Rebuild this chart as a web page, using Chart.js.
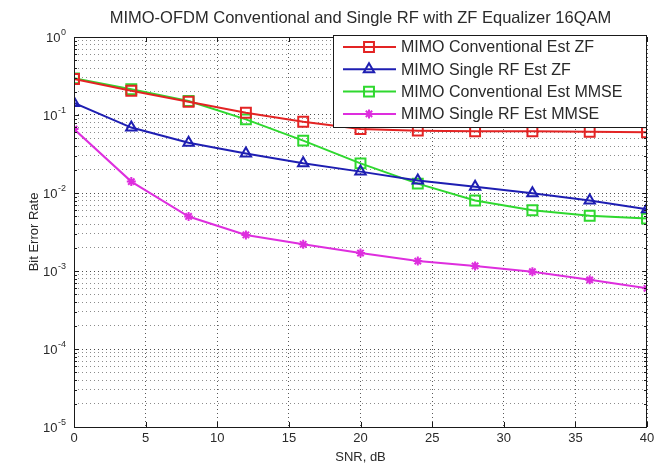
<!DOCTYPE html>
<html>
<head>
<meta charset="utf-8">
<script src="https://cdn.jsdelivr.net/npm/chart.js@4.4.0/dist/chart.umd.min.js"></script>
<style>
  html, body { margin: 0; padding: 0; background: #fff; }
</style>
</head>
<body>
<canvas id="berChart" width="661" height="465"></canvas>
<script>
// values
const snrDb = [0, 4, 8, 12, 16, 20, 24, 28, 32, 36, 40];
const convZf = [0.29, 0.205, 0.148, 0.107, 0.082, 0.066, 0.063, 0.062, 0.062, 0.061, 0.06];
const singleZf = [0.143, 0.069, 0.044, 0.032, 0.024, 0.0188, 0.0145, 0.012, 0.0099, 0.008, 0.0062];
const convMmse = [0.295, 0.214, 0.151, 0.088, 0.047, 0.024, 0.0132, 0.008, 0.006, 0.0051, 0.0047];
const singleMmse = [0.066, 0.014, 0.005, 0.0029, 0.0022, 0.0017, 0.00134, 0.00116, 0.00098, 0.00077, 0.0006];

const seriesNames = ['MIMO Conventional Est ZF', 'MIMO Single RF Est ZF', 'MIMO Conventional Est MMSE', 'MIMO Single RF Est MMSE'];
const chartTitle = 'MIMO-OFDM Conventional and Single RF with ZF Equalizer 16QAM';
const xTitle = 'SNR, dB';
const yTitle = 'Bit Error Rate';
const xTicks = [0, 5, 10, 15, 20, 25, 30, 35, 40];
const yDecades = [1e-5, 1e-4, 1e-3, 1e-2, 1e-1, 1];

const FONT = '"Liberation Sans", Arial, Helvetica, sans-serif';
const TEXT = '#2a2a2a';

// log grid: every 1..9 step inside each decade
const yGrid = [];
yDecades.forEach((d, i) => {
    if (i === yDecades.length - 1) { yGrid.push(d); return; }
    for (let m = 1; m <= 9; m++) yGrid.push(+(m * d).toPrecision(3));
});
const isDecade = v => Math.abs(Math.log10(v) - Math.round(Math.log10(v))) < 1e-6;

function toPoints(vals) {
    return snrDb.map((x, i) => ({ x: x, y: vals[i] }));
}

const styles = [
    { color: '#e32424', pointStyle: 'rect', radius: 7 },
    { color: '#1e1eb2', pointStyle: 'triangle', radius: 6 },
    { color: '#2fd82f', pointStyle: 'rect', radius: 7 },
    { color: '#de2ede', pointStyle: 'star', radius: 4.5 }
];
const allSeries = [convZf, singleZf, convMmse, singleMmse];

const datasets = allSeries.map((vals, i) => ({
    label: seriesNames[i],
    data: toPoints(vals),
    borderColor: styles[i].color,
    backgroundColor: 'rgba(0,0,0,0)',
    borderWidth: 2,
    pointStyle: styles[i].pointStyle,
    pointRadius: styles[i].radius,
    pointBorderWidth: 2,
    pointBorderColor: styles[i].color,
    pointBackgroundColor: 'rgba(0,0,0,0)',
    tension: 0
}));

// matlab-like frame, labels and legend box
const matlabFrame = {
    id: 'matlabFrame',
    afterDraw(chart) {
        const { ctx, chartArea: a, scales } = chart;
        const x = scales.x, y = scales.y;
        ctx.save();

        // axis box + inner ticks
        ctx.strokeStyle = '#1a1a1a';
        ctx.lineWidth = 1;
        ctx.setLineDash([]);
        ctx.strokeRect(a.left + 0.5, a.top + 0.5, a.right - a.left - 1, a.bottom - a.top);
        ctx.beginPath();
        xTicks.forEach(v => {
            const px = Math.round(x.getPixelForValue(v)) + 0.5;
            ctx.moveTo(px, a.bottom); ctx.lineTo(px, a.bottom - 5);
            ctx.moveTo(px, a.top); ctx.lineTo(px, a.top + 5);
        });
        yGrid.forEach(v => {
            const py = Math.round(y.getPixelForValue(v)) + 0.5;
            const len = isDecade(v) ? 5 : 3;
            ctx.moveTo(a.left, py); ctx.lineTo(a.left + len, py);
            ctx.moveTo(a.right, py); ctx.lineTo(a.right - len, py);
        });
        ctx.stroke();

        ctx.fillStyle = TEXT;

        // x tick labels
        ctx.font = '13px ' + FONT;
        ctx.textAlign = 'center';
        ctx.textBaseline = 'middle';
        xTicks.forEach(v => ctx.fillText(String(v), x.getPixelForValue(v), a.bottom + 11));

        // y tick labels 10^n
        yDecades.forEach(d => {
            const py = y.getPixelForValue(d);
            const ex = String(Math.round(Math.log10(d)));
            const right = a.left - 8;
            ctx.font = '9px ' + FONT;
            const ew = ctx.measureText(ex).width;
            ctx.textAlign = 'left';
            ctx.textBaseline = 'alphabetic';
            ctx.fillText(ex, right - ew, py - 2);
            ctx.font = '13px ' + FONT;
            ctx.textAlign = 'right';
            ctx.fillText('10', right - ew - 0.5, py + 5);
        });

        // axis titles
        ctx.font = '13px ' + FONT;
        ctx.textAlign = 'center';
        ctx.textBaseline = 'middle';
        ctx.fillText(xTitle, (a.left + a.right) / 2, a.bottom + 30);
        ctx.save();
        ctx.translate(34, (a.top + a.bottom) / 2);
        ctx.rotate(-Math.PI / 2);
        ctx.fillText(yTitle, 0, 0);
        ctx.restore();

        // title
        ctx.font = '16.5px ' + FONT;
        ctx.fillText(chartTitle, (a.left + a.right) / 2, 18);

        // legend box
        const lw = 313, lh = 92;
        const lx = a.right - lw - 1, ly = a.top - 2;
        ctx.fillStyle = '#fff';
        ctx.fillRect(lx, ly, lw, lh);
        ctx.strokeStyle = '#1a1a1a';
        ctx.lineWidth = 1;
        ctx.strokeRect(lx + 0.5, ly + 0.5, lw, lh);
        seriesNames.forEach((name, i) => {
            const cy = ly + 12 + i * 22.3;
            const st = styles[i];
            ctx.strokeStyle = st.color;
            ctx.lineWidth = 2;
            ctx.beginPath();
            ctx.moveTo(lx + 10, cy); ctx.lineTo(lx + 63, cy);
            ctx.stroke();
            ctx.fillStyle = 'rgba(0,0,0,0)';
            Chart.helpers.drawPoint(ctx, { pointStyle: st.pointStyle, radius: st.radius, rotation: 0, borderWidth: 2 }, lx + 36, cy);
            ctx.fillStyle = TEXT;
            ctx.font = '16px ' + FONT;
            ctx.textAlign = 'left';
            ctx.textBaseline = 'middle';
            ctx.fillText(name, lx + 68, cy + 1);
        });

        ctx.restore();
    }
};

new Chart(document.getElementById('berChart').getContext('2d'), {
    type: 'line',
    data: { datasets: datasets },
    options: {
        responsive: false,
        animation: false,
        layout: { padding: { left: 74, right: 14, top: 37, bottom: 38 } },
        plugins: { legend: { display: false }, title: { display: false }, tooltip: { enabled: false } },
        scales: {
            x: {
                type: 'linear', min: 0, max: 40,
                afterBuildTicks: s => { s.ticks = xTicks.map(v => ({ value: v })); },
                ticks: { display: false },
                grid: { drawTicks: false, color: 'rgba(0,0,0,0.65)', lineWidth: 1 },
                border: { display: false, dash: [1, 3] }
            },
            y: {
                type: 'logarithmic', min: 1e-5, max: 1,
                afterBuildTicks: s => { s.ticks = yGrid.map(v => ({ value: v })); },
                ticks: { display: false },
                grid: {
                    drawTicks: false, lineWidth: 1,
                    color: c => isDecade(c.tick.value) ? 'rgba(0,0,0,0.7)' : 'rgba(0,0,0,0.45)'
                },
                border: { display: false, dash: [1, 3] }
            }
        }
    },
    plugins: [matlabFrame]
});
</script>
</body>
</html>
